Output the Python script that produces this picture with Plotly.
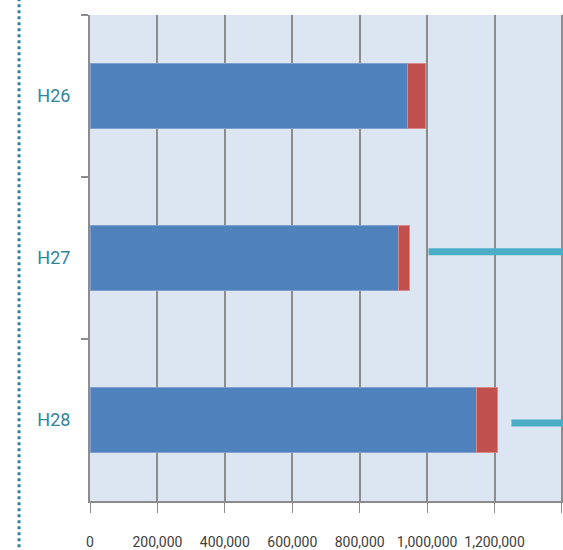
import plotly.graph_objects as go

categories = ["H26", "H27", "H28"]
blue_values = [942000, 916000, 1145000]
red_values = [53000, 32000, 64000]
line_start = [1004000, 1250000]
line_end = [1500000, 1500000]
line_cat_pos = [0.962, 2.018]
tick_vals = [0, 200000, 400000, 600000, 800000, 1000000, 1200000, 1400000]
tick_text = ["0", "200,000", "400,000", "600,000", "800,000", "1,000,000", "1,200,000", ""]

font_fam = "Roboto, Liberation Sans, sans-serif"

fig = go.Figure()
fig.add_trace(go.Bar(y=categories, x=blue_values, orientation="h",
                     marker=dict(color="#4f81bd", line=dict(color="#7f9fcf", width=1)),
                     width=0.4))
fig.add_trace(go.Bar(y=categories, x=red_values, orientation="h",
                     marker=dict(color="#c0504d", line=dict(color="#d98a88", width=1)),
                     width=0.4))
for s, e, p in zip(line_start, line_end, line_cat_pos):
    fig.add_trace(go.Scatter(x=[s, e], y=[p, p], mode="lines", yaxis="y2",
                             line=dict(color="#4bacc6", width=7), cliponaxis=True))

fig.update_layout(
    barmode="stack",
    width=563, height=550,
    margin=dict(l=90, r=0, t=15, b=49, autoexpand=False),
    paper_bgcolor="white",
    plot_bgcolor="#dce6f2",
    showlegend=False,
    xaxis=dict(range=[0, 1403000], tickvals=tick_vals, ticktext=tick_text,
               tickangle=0, automargin=False,
               showgrid=True, gridcolor="#8c8c8c", gridwidth=1.5,
               showline=True, linecolor="#8c8c8c", linewidth=2,
               ticks="outside", ticklen=10, tickcolor="#8c8c8c", tickwidth=1,
               zeroline=False, ticklabelstandoff=17,
               tickfont=dict(family=font_fam, size=14, color="#404040")),
    yaxis=dict(autorange="reversed", showgrid=False, showline=True,
               automargin=False,
               linecolor="#8c8c8c", linewidth=2, ticks="outside", ticklen=7,
               tickcolor="#8c8c8c", tickwidth=2, tickson="boundaries",
               ticklabelstandoff=14,
               tickfont=dict(family=font_fam, size=18, color="#31849b")),
    yaxis2=dict(range=[2.5, -0.5], overlaying="y", visible=False),
    shapes=[dict(type="line", xref="paper", yref="paper",
                 x0=-0.15, x1=-0.15, y0=-0.12, y1=1.04,
                 line=dict(color="#31849b", width=3, dash="dot"))],
)

fig.write_html("out.html")
